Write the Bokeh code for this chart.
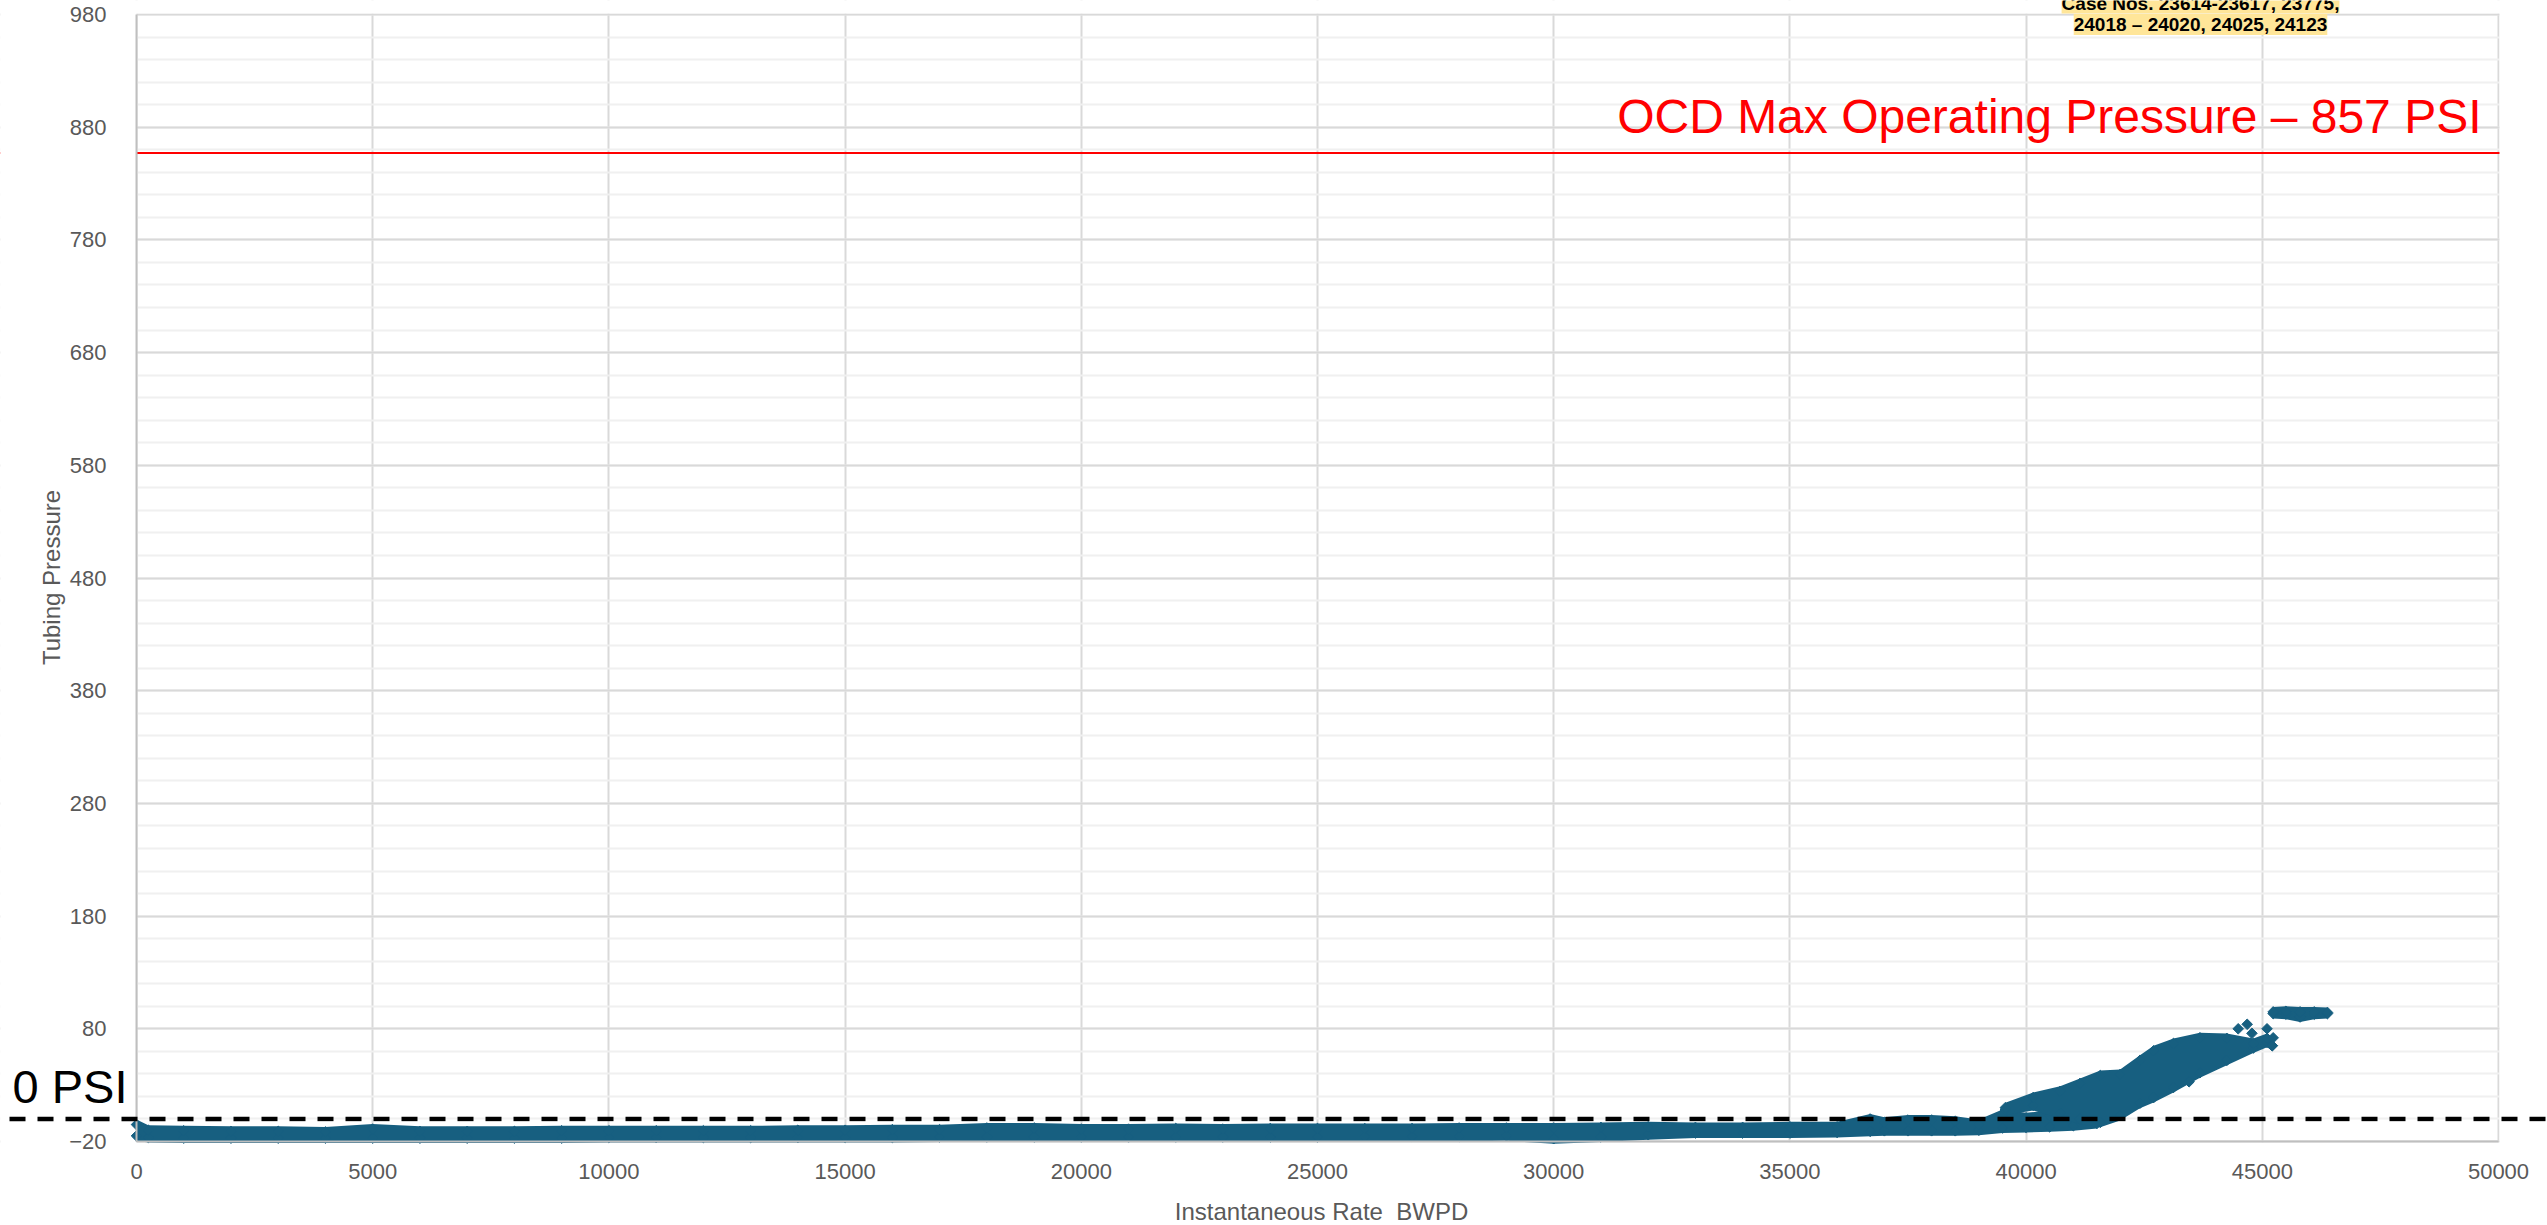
import math
from bokeh.plotting import figure
from bokeh.models import Range1d, FixedTicker, Span, Label, BoxAnnotation
from bokeh.embed import file_html
from bokeh.resources import INLINE

# ---------------- data ----------------
# low, nearly flat band: min / max tubing pressure per rate bin
low_rate = [0, 250, 1000, 2000, 3000, 4000, 5000, 6000, 7000, 8000, 9000, 10000,
            11000, 12000, 13000, 14000, 15000, 16000, 17000, 18000, 19000, 20000,
            21000, 22000, 23000, 24000, 25000, 26000, 27000, 28000, 29000, 30000,
            31000, 32000, 33000, 34000, 35000, 36000, 36700, 37000, 37500, 38000,
            38500, 39000, 39500, 40000, 40500, 41000, 41500]
low_max = [-5, -10, -10.5, -11, -11, -11.5, -9, -11, -11, -11, -10.5, -10.5,
           -10.5, -10.5, -10.5, -10, -10, -9.5, -9.5, -8, -8, -9,
           -9, -8.5, -9, -8.5, -8.5, -8.5, -8.5, -8, -8, -8,
           -7.5, -7, -7.5, -7.5, -7, -7, 0, -3, -1, -1,
           -2, -5, 4, 1, 3, 4, 6]
low_min = [-15, -16.5, -17, -17, -17, -17, -17, -17, -17, -17, -17, -16.5,
           -16.5, -16.5, -16.5, -16.5, -16.5, -16.5, -16, -16, -16, -16,
           -16, -16, -16, -16, -16, -15.5, -15.5, -15.5, -15, -17.5,
           -16, -14, -12.5, -12.5, -12.5, -12, -11, -10.5, -10.5, -10.5,
           -10.5, -10, -8, -7.5, -7, -6, -4]

# rising band above ~39,500 BWPD
rise_rate = [39560, 40150, 40720, 41140, 41570, 41990, 42410, 42700, 43120,
             43680, 44250, 44810, 45100, 45210]
rise_max = [10, 19, 24.5, 31.5, 38.5, 39.5, 52, 60.5, 67, 72, 71.5, 67, 71.5, 65]
rise_min = [8, 12, 5, 0, -3, 3, 14, 19, 28, 41, 52, 63, 68, 65]

# top cluster near 46,000 BWPD
top_rate = [45230, 45500, 45800, 46100, 46380]
top_min = [93.5, 93, 90.5, 93, 93.5]
top_max = [95, 95.5, 95, 95, 94.5]

# isolated points
outlier_rate = [44490, 44680, 44780, 45100, 43450, 45230]
outlier_pressure = [80, 84, 76, 80, 33, 72]

x_ticks = [0, 5000, 10000, 15000, 20000, 25000, 30000, 35000, 40000, 45000, 50000]
y_ticks = [-20, 80, 180, 280, 380, 480, 580, 680, 780, 880, 980]
y_minor = list(range(-20, 981, 20))

max_pressure = 857
zero_pressure = 0
x_title = "Instantaneous Rate\u00a0 BWPD"
y_title = "Tubing Pressure"
max_label = "OCD Max Operating Pressure – 857 PSI"
zero_label = "0 PSI"
case_line1 = "Case Nos. 23614-23617, 23775,"
case_line2 = "24018 – 24020, 24025, 24123"

# ---------------- layout (pixels of the page) ----------------
W, H = 2547, 1225
BOX_L, BOX_R, BOX_T, BOX_B = 136, 2498, 14, 1141
X0, X1 = x_ticks[0], x_ticks[-1]
Y0, Y1 = y_ticks[0], y_ticks[-1]
kx = (BOX_R - BOX_L) / (X1 - X0)
ky = (BOX_B - BOX_T) / (Y1 - Y0)


def data_y(page_y):
    return Y0 + (BOX_B - page_y) / ky


MARK = "#175f80"
FONT = "Liberation Sans"
GRAY = "#595959"
HALF = 5 / ky  # half height of a marker, in data units

# the frame covers the whole page; the plot box is drawn inside it
p = figure(width=W, height=H, output_backend="svg", toolbar_location=None,
           x_range=Range1d(X0 - BOX_L / kx, X1 + (W - BOX_R) / kx),
           y_range=Range1d(Y0 - (H - BOX_B) / ky, Y1 + BOX_T / ky),
           min_border_left=0, min_border_right=0, min_border_top=0,
           min_border_bottom=0)
p.background_fill_color = "white"
p.border_fill_color = "white"
p.outline_line_color = None

p.xaxis.ticker = FixedTicker(ticks=x_ticks)
p.yaxis.ticker = FixedTicker(ticks=y_ticks)
p.xgrid.ticker = FixedTicker(ticks=x_ticks)
p.ygrid.ticker = FixedTicker(ticks=y_ticks, minor_ticks=y_minor)

for ax in (p.xaxis[0], p.yaxis[0]):
    ax.major_label_text_font = FONT
    ax.major_label_text_font_size = "22px"
    ax.major_label_text_color = GRAY
    ax.major_tick_line_color = None
    ax.minor_tick_line_color = None
    ax.axis_line_color = "#bfbfbf"
    ax.axis_line_width = 2

p.xaxis.bounds = (X0, X1)
p.xaxis.fixed_location = Y0
p.xaxis.major_label_standoff = 16
p.yaxis.bounds = (Y0, Y1)
p.yaxis.fixed_location = X0
p.yaxis.major_label_standoff = 24

p.xgrid.grid_line_color = "#d9d9d9"
p.xgrid.grid_line_width = 2
p.ygrid.grid_line_color = "#d9d9d9"
p.ygrid.grid_line_width = 2
p.ygrid.minor_grid_line_color = "#f0f0f0"
p.ygrid.minor_grid_line_width = 2

# red max operating pressure line (under the white covers outside the plot box)
p.add_layout(Span(location=max_pressure, dimension="width", line_color="#ff0000",
                  line_width=2, level="underlay"))

# white covers: keep grid lines inside the plot box
for kw in (dict(right=X0), dict(left=X1 + 1 / kx), dict(bottom=Y1 + 1 / ky),
           dict(top=Y0 - 1 / ky)):
    p.add_layout(BoxAnnotation(fill_color="white", fill_alpha=1, line_alpha=0,
                               level="underlay", **kw))

# data bands and points
for xs, lo, hi in ((low_rate, low_min, low_max), (rise_rate, rise_min, rise_max),
                   (top_rate, top_min, top_max)):
    p.varea(x=xs, y1=[v - HALF for v in lo], y2=[v + HALF for v in hi], color=MARK)
    p.scatter(xs, lo, marker="square", angle=math.pi / 4, size=7.5, color=MARK)
    p.scatter(xs, hi, marker="square", angle=math.pi / 4, size=7.5, color=MARK)
p.scatter(outlier_rate, outlier_pressure, marker="square", angle=math.pi / 4,
          size=7.5, color=MARK)

# axis titles
p.add_layout(Label(x=1321, y=data_y(1211), x_units="screen", y_units="data",
                   text=x_title, text_align="center", text_baseline="middle",
                   text_font=FONT, text_font_size="24px", text_color=GRAY))
p.add_layout(Label(x=51, y=data_y(577), x_units="screen", y_units="data",
                   text=y_title, angle=math.pi / 2, text_align="center",
                   text_baseline="middle", text_font=FONT, text_font_size="24px",
                   text_color=GRAY))

p.add_layout(Label(x=(2481 - BOX_L) / kx, y=data_y(115.5), x_units="data",
                   y_units="data", text=max_label, text_align="right",
                   text_baseline="middle", text_font=FONT, text_font_size="48px",
                   text_color="#ff0000"))

# dashed zero line across the whole slide width
for i in range(91):
    x0 = 9 + 28 * i
    p.add_layout(BoxAnnotation(left=x0, right=x0 + 16, left_units="canvas",
                               right_units="canvas", top=zero_pressure + 2.2 / ky,
                               bottom=zero_pressure - 2.2 / ky, fill_color="black",
                               fill_alpha=1, line_alpha=0))
p.add_layout(Label(x=12, y=data_y(1086), x_units="screen", y_units="data",
                   text=zero_label, text_align="left", text_baseline="middle",
                   text_font=FONT, text_font_size="47px", text_color="black"))

# case numbers (highlighted)
for txt, page_y in ((case_line1, 2.5), (case_line2, 24)):
    p.add_layout(Label(x=2200, y=data_y(page_y), x_units="screen", y_units="data",
                       text=txt, text_align="center", text_baseline="middle",
                       text_font=FONT, text_font_size="19px", text_font_style="bold",
                       text_color="black", background_fill_color="#ffe699"))

open("out.html", "w").write(file_html(p, INLINE))
